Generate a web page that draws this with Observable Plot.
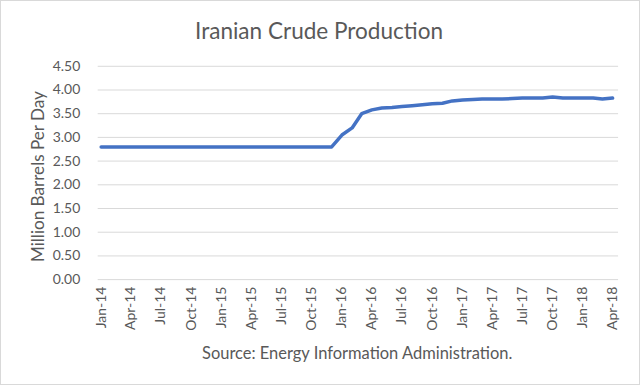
<!DOCTYPE html>
<html>
<head>
<meta charset="utf-8">
<script src="https://cdn.jsdelivr.net/npm/d3@7"></script>
<script src="https://cdn.jsdelivr.net/npm/@observablehq/plot@0.6"></script>
<style>
  html, body { margin: 0; padding: 0; background: #fff; }
  #chart { position: relative; width: 640px; height: 385px; box-sizing: border-box; border: 1px solid #d9d9d9; overflow: hidden; font-family: Lato, "Open Sans", sans-serif; color: #595959; }
  #chart svg { position: absolute; left: -1px; top: -1px; }
  .lbl { position: absolute; white-space: nowrap; line-height: 1; }
  .title { font-size: 22px; }
  .ylab { font-size: 16px; }
  .source { font-size: 16px; }
</style>
</head>
<body>
<div id="chart">
  <div class="lbl title">Iranian Crude Production</div>
  <div class="lbl ylab">Million Barrels Per Day</div>
  <div class="lbl source">Source: Energy Information Administration.</div>
</div>
<script>
const months = d3.utcMonths(new Date(Date.UTC(2014, 0, 1)), new Date(Date.UTC(2018, 4, 1)));
const production = [
  2.80, 2.80, 2.80, 2.80, 2.80, 2.80, 2.80, 2.80, 2.80, 2.80, 2.80, 2.80,
  2.80, 2.80, 2.80, 2.80, 2.80, 2.80, 2.80, 2.80, 2.80, 2.80, 2.80, 2.80,
  3.05, 3.20, 3.50, 3.58, 3.62, 3.63, 3.65, 3.67, 3.69, 3.71, 3.72, 3.77,
  3.79, 3.80, 3.81, 3.81, 3.81, 3.82, 3.83, 3.83, 3.83, 3.85, 3.83, 3.83,
  3.83, 3.83, 3.81, 3.83
];
const yTicks = [0, 0.5, 1, 1.5, 2, 2.5, 3, 3.5, 4, 4.5];
const xTicks = d3.utcMonth.every(3).range(new Date(Date.UTC(2014, 0, 1)), new Date(Date.UTC(2018, 4, 1)));

const data = months.map((d, i) => ({date: d, value: production[i]}));

const plot = Plot.plot({
  width: 640,
  height: 385,
  marginTop: 66,
  marginBottom: 105,
  marginLeft: 98,
  marginRight: 20,
  style: {fontFamily: "Lato, 'Open Sans', sans-serif", fontSize: "14px", color: "#595959", background: "transparent"},
  x: {type: "utc", domain: [new Date(Date.UTC(2013, 11, 23)), new Date(Date.UTC(2018, 3, 19))]},
  y: {domain: [0, 4.5]},
  marks: [
    Plot.ruleY(yTicks, {stroke: "#d9d9d9", strokeWidth: 1}),
    Plot.axisY({ticks: yTicks, tickFormat: d3.format(".2f"), tickSize: 0, tickPadding: 18, label: null, fill: "#595959"}),
    Plot.axisX({ticks: xTicks, tickFormat: d3.utcFormat("%b-%y"), tickSize: 0, tickPadding: 7, tickRotate: -90, label: null, fill: "#595959"}),
    Plot.lineY(data, {x: "date", y: "value", stroke: "#4472C4", strokeWidth: 3.5, strokeLinejoin: "round", strokeLinecap: "round"})
  ]
});
document.getElementById("chart").prepend(plot);

// fit text blocks to the reference widths and place them by their centres
function place(sel, targetW, cx, cy, rotate) {
  const el = document.querySelector(sel);
  const fs = parseFloat(getComputedStyle(el).fontSize);
  const w0 = el.offsetWidth;
  el.style.fontSize = (fs * targetW / w0).toFixed(2) + "px";
  const w = el.offsetWidth, h = el.offsetHeight;
  el.style.left = (cx - w / 2 - 1) + "px";
  el.style.top = (cy - h / 2 - 1) + "px";
  if (rotate) el.style.transform = "rotate(-90deg)";
}
place(".title", 248, 319, 31, false);
place(".ylab", 171, 37, 176, true);
place(".source", 311, 357, 353, false);
</script>
</body>
</html>
